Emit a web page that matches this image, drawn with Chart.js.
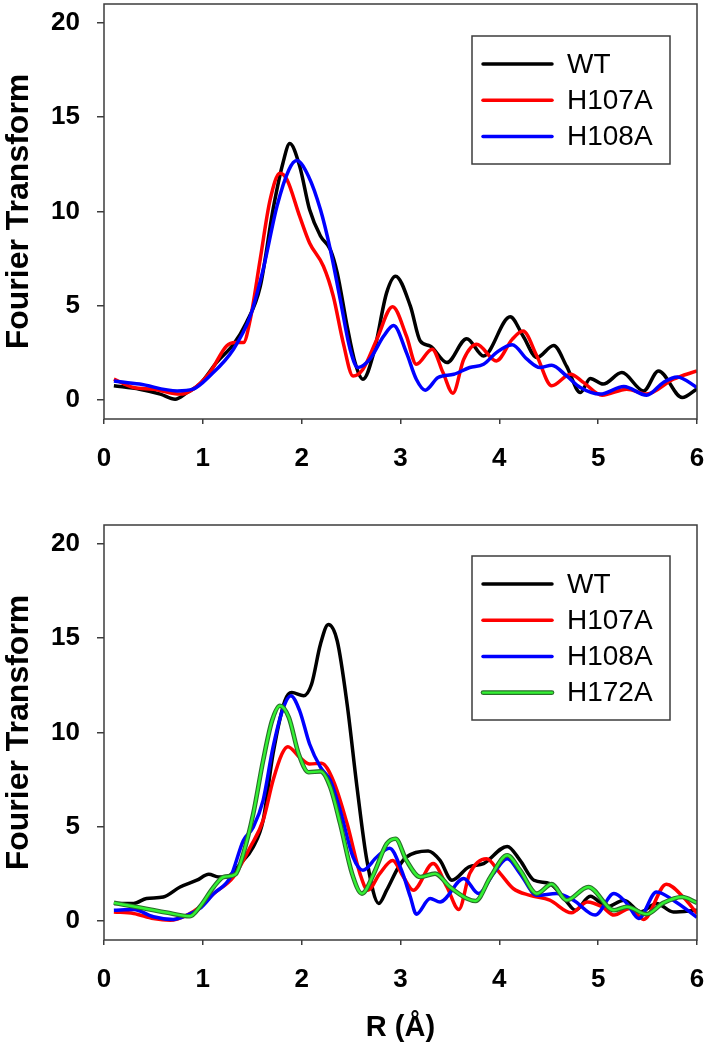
<!DOCTYPE html>
<html lang="en">
<head>
  <meta charset="UTF-8" />
  <title>Fourier Transform - EXAFS</title>
  <script src="https://cdn.jsdelivr.net/npm/chart.js"></script>
  <style>
    body { margin: 0; background: #fff; }
    .wrap { position: relative; width: 708px; height: 1050px; }
    canvas { position: absolute; left: 0; }
    #topChart { top: 0; }
    #bottomChart { top: 520px; }
  </style>
</head>
<body>
<div class="wrap">
  <canvas id="topChart" width="708" height="520"></canvas>
  <canvas id="bottomChart" width="708" height="530"></canvas>
</div>

<script>
  // axis ticks
  const xTicks = [0, 1, 2, 3, 4, 5, 6];
  const yTicks = [0, 5, 10, 15, 20];

  // ---- top panel ----
  const topWtR = [0.1, 0.36, 0.57, 0.72, 0.84, 0.97, 1.14, 1.31, 1.44, 1.58, 1.71, 1.81, 1.88, 1.98, 2.08, 2.19, 2.29, 2.36, 2.46, 2.54, 2.62, 2.73, 2.86, 2.95, 3.10, 3.20, 3.30, 3.47, 3.67, 3.84, 4.11, 4.24, 4.38, 4.55, 4.68, 4.82, 4.92, 5.05, 5.24, 5.46, 5.61, 5.85, 6.0];
  const topWtFT = [0.76, 0.58, 0.32, 0.05, 0.4, 0.85, 2.0, 2.96, 4.1, 6.0, 10.1, 12.56, 13.6, 12.4, 10.1, 8.7, 7.98, 6.75, 3.93, 2.0, 1.11, 2.52, 5.7, 6.57, 4.98, 3.13, 2.87, 1.99, 3.26, 2.34, 4.42, 3.4, 2.26, 2.9, 1.8, 0.4, 1.15, 0.85, 1.46, 0.49, 1.55, 0.14, 0.6];

  const top107R = [0.1, 0.30, 0.50, 0.77, 0.90, 1.07, 1.24, 1.33, 1.41, 1.48, 1.58, 1.68, 1.78, 1.85, 1.98, 2.08, 2.22, 2.32, 2.42, 2.52, 2.62, 2.76, 2.92, 3.06, 3.16, 3.32, 3.43, 3.53, 3.64, 3.77, 3.97, 4.13, 4.24, 4.38, 4.53, 4.72, 4.85, 5.04, 5.29, 5.49, 5.76, 6.0];
  const top107FT = [1.11, 0.67, 0.58, 0.32, 0.58, 1.46, 2.87, 3.05, 3.05, 4.28, 7.45, 10.6, 12.03, 11.7, 9.74, 8.33, 7.1, 5.51, 3.05, 1.28, 1.64, 3.22, 4.95, 3.4, 1.9, 2.7, 1.46, 0.37, 2.17, 2.96, 2.08, 3.22, 3.66, 2.34, 0.76, 1.37, 0.94, 0.26, 0.58, 0.32, 1.11, 1.55];

  const top108R = [0.1, 0.36, 0.74, 0.90, 1.07, 1.31, 1.48, 1.61, 1.75, 1.87, 1.95, 2.07, 2.19, 2.29, 2.39, 2.49, 2.57, 2.69, 2.83, 2.93, 3.06, 3.16, 3.25, 3.38, 3.54, 3.70, 3.84, 3.97, 4.13, 4.28, 4.41, 4.53, 4.68, 4.82, 5.02, 5.26, 5.49, 5.66, 5.80, 6.0];
  const top108FT = [1.02, 0.85, 0.49, 0.58, 1.28, 2.7, 4.46, 6.92, 10.27, 12.2, 12.7, 11.86, 10.1, 7.98, 5.34, 2.7, 1.73, 2.17, 3.4, 3.96, 2.52, 1.11, 0.53, 1.2, 1.37, 1.73, 1.9, 2.52, 2.94, 2.17, 1.73, 1.85, 1.28, 0.67, 0.32, 0.72, 0.26, 0.94, 1.23, 0.67];

  // ---- bottom panel ----
  const botWtR = [0.1, 0.30, 0.43, 0.60, 0.77, 0.94, 1.06, 1.16, 1.24, 1.38, 1.51, 1.61, 1.71, 1.83, 1.90, 2.02, 2.10, 2.19, 2.27, 2.36, 2.46, 2.56, 2.66, 2.78, 2.86, 2.98, 3.06, 3.28, 3.40, 3.52, 3.69, 3.84, 4.08, 4.21, 4.35, 4.51, 4.67, 4.77, 4.92, 5.09, 5.26, 5.43, 5.59, 5.76, 6.0];
  const botWtFT = [0.94, 0.94, 1.2, 1.28, 1.81, 2.17, 2.48, 2.34, 2.34, 3.05, 3.93, 5.34, 8.86, 11.68, 12.12, 11.95, 12.56, 14.68, 15.73, 14.85, 11.5, 7.1, 3.22, 0.94, 1.64, 2.87, 3.4, 3.72, 3.22, 2.17, 2.87, 3.05, 3.96, 3.22, 2.17, 1.99, 1.11, 0.58, 1.32, 0.76, 1.11, 0.49, 0.94, 0.49, 0.58];

  const bot107R = [0.1, 0.30, 0.50, 0.67, 0.84, 0.97, 1.11, 1.31, 1.48, 1.61, 1.71, 1.80, 1.86, 1.98, 2.08, 2.20, 2.32, 2.46, 2.59, 2.67, 2.79, 2.92, 3.03, 3.13, 3.33, 3.47, 3.59, 3.70, 3.87, 4.01, 4.14, 4.31, 4.51, 4.73, 4.89, 5.04, 5.16, 5.32, 5.46, 5.69, 5.86, 6.0];
  const bot107FT = [0.49, 0.41, 0.14, 0.05, 0.32, 0.76, 1.46, 2.34, 3.93, 5.34, 7.45, 8.86, 9.25, 8.68, 8.33, 8.37, 7.45, 5.16, 2.52, 1.64, 2.52, 3.22, 2.34, 1.64, 3.05, 1.81, 0.62, 2.52, 3.31, 2.52, 1.73, 1.37, 1.11, 0.44, 1.02, 0.76, 0.32, 0.67, 0.09, 1.96, 1.28, 0.41];

  const bot108R = [0.1, 0.30, 0.50, 0.70, 0.84, 0.97, 1.11, 1.28, 1.41, 1.51, 1.61, 1.71, 1.81, 1.89, 1.98, 2.08, 2.19, 2.29, 2.39, 2.52, 2.62, 2.76, 2.89, 3.01, 3.10, 3.16, 3.30, 3.40, 3.64, 3.79, 3.94, 4.08, 4.21, 4.38, 4.58, 4.75, 4.97, 5.16, 5.29, 5.41, 5.59, 5.76, 6.0];
  const bot108FT = [0.58, 0.62, 0.23, 0.09, 0.32, 0.67, 1.46, 2.34, 4.28, 4.98, 6.4, 9.21, 11.24, 11.95, 11.15, 9.39, 8.16, 7.45, 5.87, 3.4, 2.7, 3.4, 3.87, 2.7, 1.28, 0.37, 1.2, 1.02, 2.26, 1.46, 2.52, 3.31, 2.52, 1.37, 1.46, 1.11, 0.32, 1.46, 0.94, 0.14, 1.55, 1.11, 0.2];

  const bot172R = [0.1, 0.36, 0.63, 0.87, 0.97, 1.11, 1.21, 1.33, 1.41, 1.51, 1.61, 1.70, 1.78, 1.87, 1.97, 2.07, 2.19, 2.29, 2.39, 2.51, 2.61, 2.73, 2.86, 2.95, 3.06, 3.20, 3.35, 3.50, 3.67, 3.76, 3.91, 4.08, 4.21, 4.38, 4.53, 4.68, 4.90, 5.16, 5.29, 5.49, 5.66, 5.85, 6.0];
  const bot172FT = [0.97, 0.72, 0.46, 0.26, 0.76, 1.81, 2.34, 2.48, 3.58, 5.69, 8.51, 10.62, 11.42, 10.8, 8.86, 7.89, 7.94, 7.1, 5.16, 2.52, 1.46, 2.52, 4.1, 4.37, 3.22, 2.34, 2.52, 1.81, 1.2, 1.07, 2.34, 3.49, 2.7, 1.46, 1.96, 1.11, 1.81, 0.58, 0.76, 0.37, 0.97, 1.28, 0.97];

  const FONT = "'Liberation Sans', Arial, sans-serif";

  function pts(xs, ys) {
    return xs.map((x, i) => ({ x: x, y: ys[i] }));
  }

  function series(label, color, xs, ys, order, extra) {
    return Object.assign({
      label: label,
      data: pts(xs, ys),
      borderColor: color,
      borderWidth: 3.5,
      pointRadius: 0,
      fill: false,
      cubicInterpolationMode: 'monotone',
      order: order
    }, extra || {});
  }

  // box around the plot area
  const framePlugin = {
    id: 'frame',
    afterDraw(chart) {
      const a = chart.chartArea, ctx = chart.ctx;
      ctx.save();
      ctx.strokeStyle = '#3c3c3c';
      ctx.lineWidth = 1.5;
      ctx.strokeRect(a.left, a.top, a.right - a.left, a.bottom - a.top);
      ctx.restore();
    }
  };

  // legend box in the upper right of the plot
  const boxLegend = {
    id: 'boxLegend',
    afterDraw(chart, args, opts) {
      const ctx = chart.ctx;
      const items = chart.data.datasets.filter(d => !d.noLegend);
      ctx.save();
      ctx.fillStyle = '#fff';
      ctx.fillRect(opts.x, opts.y, opts.w, opts.h);
      ctx.strokeStyle = '#3c3c3c';
      ctx.lineWidth = 1.5;
      ctx.strokeRect(opts.x, opts.y, opts.w, opts.h);
      ctx.font = '28px ' + FONT;
      ctx.textBaseline = 'middle';
      ctx.lineCap = 'round';
      items.forEach((d, i) => {
        const y = opts.y + 28 + i * 36.2;
        if (d.outline) {
          ctx.strokeStyle = d.outline;
          ctx.lineWidth = 4.6;
          ctx.beginPath(); ctx.moveTo(opts.x + 11, y); ctx.lineTo(opts.x + 80, y); ctx.stroke();
        }
        ctx.strokeStyle = d.legendColor || d.borderColor;
        ctx.lineWidth = d.outline ? 2.4 : 3.5;
        ctx.beginPath(); ctx.moveTo(opts.x + 11, y); ctx.lineTo(opts.x + 80, y); ctx.stroke();
        ctx.fillStyle = '#000';
        ctx.fillText(d.label, opts.x + 95, y + 1);
      });
      ctx.restore();
    }
  };

  function makeChart(id, datasets, h, plotBottom, padTop, xTitle, legendBox) {
    const ctx = document.getElementById(id).getContext('2d');
    return new Chart(ctx, {
      type: 'line',
      data: { datasets: datasets },
      options: {
        responsive: false,
        animation: false,
        layout: { padding: { left: 0, top: padTop, right: 11, bottom: 0 } },
        plugins: {
          legend: { display: false },
          tooltip: { enabled: false },
          boxLegend: legendBox
        },
        scales: {
          x: {
            type: 'linear', min: 0, max: 6,
            afterBuildTicks: s => { s.ticks = xTicks.map(v => ({ value: v })); },
            afterFit: s => {
              s.height = h - plotBottom;
              s.paddingLeft = 0; s.paddingRight = 0;
              s.paddingTop = 0; s.paddingBottom = 0;
            },
            border: { display: false },
            grid: { drawOnChartArea: false, drawTicks: true, tickLength: 5, color: '#3c3c3c', lineWidth: 1.5 },
            ticks: { font: { family: FONT, size: 26, weight: 'bold' }, color: '#000', padding: 19, maxRotation: 0, autoSkip: false },
            title: {
              display: !!xTitle, text: xTitle || '',
              font: { family: FONT, size: 29, weight: 'bold' }, color: '#000',
              padding: { top: 0, bottom: 5 }
            }
          },
          y: {
            type: 'linear', min: -1, max: 21,
            afterBuildTicks: s => { s.ticks = yTicks.map(v => ({ value: v })); },
            afterFit: s => {
              s.width = 104;
              s.paddingLeft = 0; s.paddingRight = 0;
              s.paddingTop = 0; s.paddingBottom = 0;
            },
            border: { display: false },
            grid: { drawOnChartArea: false, drawTicks: true, tickLength: 7, color: '#3c3c3c', lineWidth: 1.5 },
            ticks: { font: { family: FONT, size: 26, weight: 'bold' }, color: '#000', padding: 17, autoSkip: false },
            title: {
              display: true, text: 'Fourier Transform',
              font: { family: FONT, size: 32, weight: 'bold' }, color: '#000',
              padding: { top: 0, bottom: 0 }
            }
          }
        }
      },
      plugins: [framePlugin, boxLegend]
    });
  }

  makeChart('topChart', [
    series('WT', '#000000', topWtR, topWtFT, 3),
    series('H107A', '#ff0000', top107R, top107FT, 2),
    series('H108A', '#0000ff', top108R, top108FT, 1)
  ], 520, 419, 4, null, { x: 472, y: 36, w: 198, h: 128 });

  makeChart('bottomChart', [
    series('WT', '#000000', botWtR, botWtFT, 4),
    series('H107A', '#ff0000', bot107R, bot107FT, 3),
    series('H108A', '#0000ff', bot108R, bot108FT, 2),
    series('H172A', '#2a6e2a', bot172R, bot172FT, 1, { borderWidth: 4.6, outline: '#2a6e2a', legendColor: '#33f233' }),
    series('H172A', '#33f233', bot172R, bot172FT, 0, { borderWidth: 2.4, noLegend: true })
  ], 530, 420, 5, 'R (Å)', { x: 472, y: 36, w: 198, h: 164 });
</script>
</body>
</html>
